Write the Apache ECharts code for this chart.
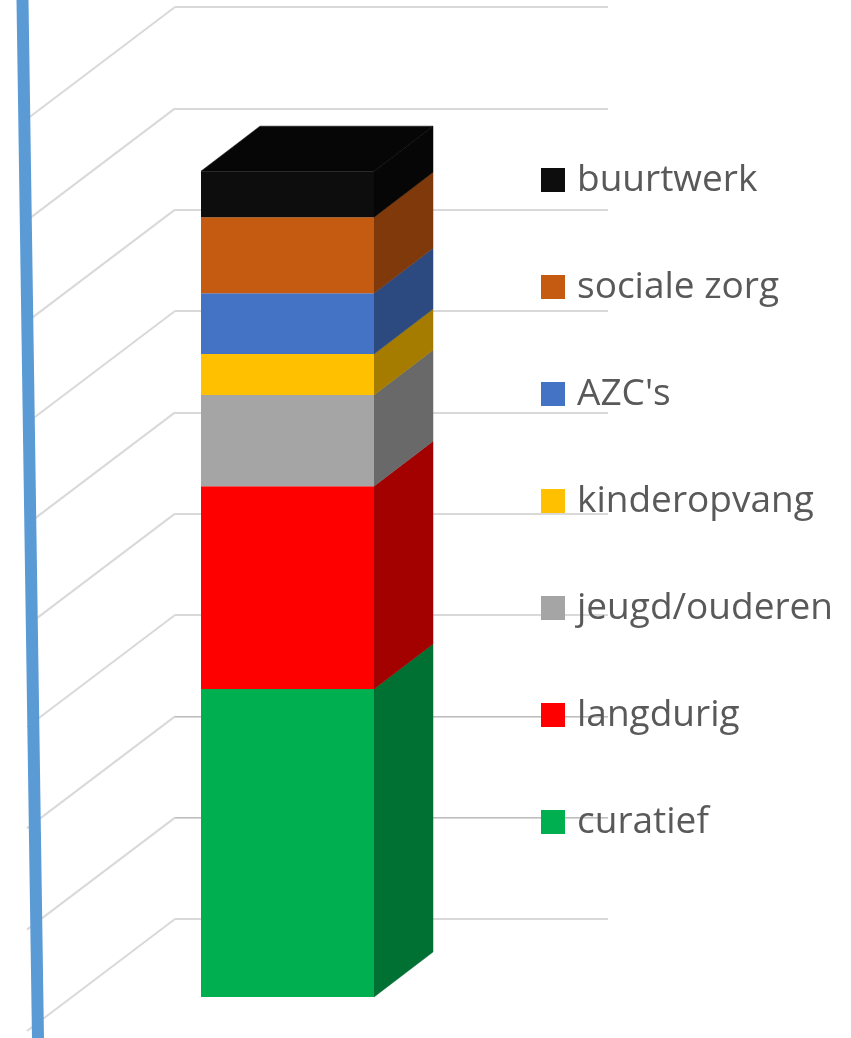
<!DOCTYPE html>
<html>
<head>
<meta charset="utf-8">
<style>html,body{margin:0;padding:0;background:#fff}#c{width:851px;height:1038px}</style>
<script src="https://cdn.jsdelivr.net/npm/echarts@6/dist/echarts.min.js"></script>
</head>
<body>
<div id="c"></div>
<script>
// Data (bottom of the stack first)
var categories = ['totaal'];
var seriesNames = ['curatief', 'langdurig', 'jeugd/ouderen', 'kinderopvang', "AZC's", 'sociale zorg', 'buurtwerk'];
var seriesValues = [30.4, 20.0, 9.0, 4.05, 6.0, 7.5, 4.55];
var frontColors = ['#00B050', '#FF0000', '#A5A5A5', '#FFC000', '#4472C4', '#C55A11', '#0D0D0D'];
var sideColors = ['#007033', '#A30000', '#696969', '#A67C00', '#2C4A80', '#7F390B', '#060606'];
var topColor = '#060606';
var gridValues = [0, 10, 20, 30, 40, 50, 60, 70, 80, 90];
var darkGridValues = [10, 20];

// Oblique projection, pixels relative to the axis position of a value
var front = { left: -190.5, right: -17.5, dy: 78 };
var back = { dx: 59, dy: 33 };
var wall = { dx: -148, dy: 112 };
var gridLeftOffset = -216.5;

function barRenderer(i, start, end) {
  return function (params, api) {
    var p0 = api.coord([0, start]);
    var p1 = api.coord([0, end]);
    var xl = p0[0] + front.left, xr = p0[0] + front.right, xb = xr + back.dx;
    var y0 = p0[1] + front.dy, y1 = p1[1] + front.dy;
    var by0 = p0[1] + back.dy, by1 = p1[1] + back.dy;
    var children = [];
    if (i === seriesValues.length - 1) {
      children.push({ type: 'polygon', shape: { points: [[xl, y1], [xr, y1], [xb, by1], [xl + back.dx, by1]] },
        style: { fill: topColor, stroke: topColor, lineWidth: 0.5 } });
    }
    children.push(
      { type: 'polygon', shape: { points: [[xr, y0], [xb, by0], [xb, by1], [xr, y1]] },
        style: { fill: sideColors[i], stroke: sideColors[i], lineWidth: 0.5 } },
      { type: 'rect', shape: { x: xl, y: y1, width: xr - xl, height: y0 - y1 },
        style: { fill: frontColors[i] } }
    );
    return { type: 'group', children: children };
  };
}

var running = 0;
var barSeries = seriesNames.map(function (name, i) {
  var start = running;
  running += seriesValues[i];
  return {
    name: name,
    type: 'custom',
    coordinateSystem: 'cartesian2d',
    itemStyle: { color: frontColors[i] },
    z: 5 + i,
    renderItem: barRenderer(i, start, running),
    data: [[categories[0], seriesValues[i]]],
    encode: { x: 0, y: 1 }
  };
});

var wallSeries = {
  type: 'custom',
  silent: true,
  z: 2,
  renderItem: function (params, api) {
    var p = api.coord([0, api.value(0)]);
    var x = p[0] + gridLeftOffset;
    return { type: 'line', shape: { x1: x, y1: p[1], x2: x + wall.dx, y2: p[1] + wall.dy },
      style: { stroke: '#D9D9D9', lineWidth: 2, fill: null } };
  },
  data: gridValues.map(function (v) { return [v]; }),
  encode: { y: 0 }
};

var darkGridSeries = {
  type: 'custom',
  silent: true,
  z: 3,
  renderItem: function (params, api) {
    var p = api.coord([0, api.value(0)]);
    var y = Math.floor(p[1]) + 0.5;
    var size = api.size([1, 0]);
    return { type: 'line', shape: { x1: p[0] - size[0] / 2, y1: y, x2: p[0] + size[0] / 2, y2: y },
      style: { stroke: '#BDBDBD', lineWidth: 1, fill: null } };
  },
  data: darkGridValues.map(function (v) { return [v]; }),
  encode: { y: 0 }
};

var axisWallSeries = {
  type: 'custom',
  silent: true,
  z: 4,
  renderItem: function (params, api) {
    var top = api.coord([0, 90.7]);
    var bottom = api.coord([0, -11.75]);
    var x = top[0] + gridLeftOffset;
    return { type: 'line', shape: { x1: x - 152.5, y1: top[1], x2: x - 137, y2: bottom[1] },
      style: { stroke: '#5B9BD5', lineWidth: 12, fill: null } };
  },
  data: [[0]],
  encode: { y: 0 }
};

var chart = echarts.init(document.getElementById('c'), null, { renderer: 'canvas' });
chart.setOption({
  animation: false,
  backgroundColor: '#fff',
  tooltip: { show: false },
  grid: { left: 175, right: 243, top: 7, bottom: 119 },
  xAxis: { type: 'category', data: categories, show: false },
  yAxis: {
    type: 'value', min: 0, max: 90, interval: 10,
    axisLine: { show: false }, axisTick: { show: false }, axisLabel: { show: false },
    splitLine: { show: true, lineStyle: { color: '#D9D9D9', width: 2 } }
  },
  legend: {
    orient: 'vertical',
    left: 536,
    top: 156.5,
    itemWidth: 24,
    itemHeight: 24,
    itemGap: 70,
    icon: 'rect',
    selectedMode: false,
    data: seriesNames.slice().reverse(),
    textStyle: { color: '#595959', fontSize: 37, fontFamily: '"Open Sans", "Noto Sans", sans-serif', height: 24, lineHeight: 24, padding: [0, 0, 0, 7] }
  },
  series: [wallSeries, darkGridSeries, axisWallSeries].concat(barSeries)
});
</script>
</body>
</html>
